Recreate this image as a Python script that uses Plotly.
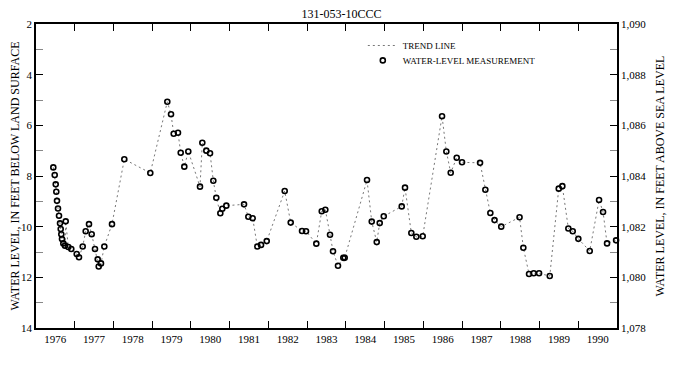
import plotly.graph_objects as go

# Measurement dates (decimal years) and depth to water (feet below land surface)
years = [
    1976.447, 1976.483, 1976.509, 1976.524, 1976.542, 1976.568, 1976.594, 1976.620,
    1976.638, 1976.653, 1976.671, 1976.705, 1976.749, 1976.767, 1976.834, 1976.911,
    1977.051, 1977.110, 1977.206, 1977.283, 1977.368, 1977.438, 1977.523, 1977.593,
    1977.619, 1977.678, 1977.764, 1977.962, 1978.280, 1978.951, 1979.390, 1979.486,
    1979.555, 1979.666, 1979.736, 1979.829, 1979.932, 1980.234, 1980.294, 1980.397,
    1980.493, 1980.578, 1980.655, 1980.759, 1980.810, 1980.914, 1981.371, 1981.482,
    1981.595, 1981.714, 1981.810, 1981.957, 1982.421, 1982.576, 1982.868, 1982.971,
    1983.237, 1983.377, 1983.470, 1983.591, 1983.668, 1983.797, 1983.934, 1983.970,
    1984.546, 1984.668, 1984.797, 1984.874, 1984.978, 1985.442, 1985.527, 1985.690,
    1985.819, 1985.984, 1986.483, 1986.594, 1986.707, 1986.862, 1986.999, 1987.464,
    1987.601, 1987.730, 1987.838, 1988.011, 1988.484, 1988.582, 1988.729, 1988.850,
    1988.988, 1989.264, 1989.496, 1989.589, 1989.744, 1989.857, 1990.002, 1990.296,
    1990.537, 1990.640, 1990.743, 1990.976,
]
depth = [
    7.66, 7.96, 8.33, 8.62, 8.98, 9.28, 9.57, 9.87,
    10.09, 10.30, 10.49, 10.66, 10.75, 9.79, 10.80, 10.88,
    11.08, 11.21, 10.78, 10.18, 9.90, 10.30, 10.88, 11.29,
    11.57, 11.45, 10.78, 9.90, 7.34, 7.88, 5.07, 5.56,
    6.33, 6.29, 7.08, 7.63, 7.03, 8.42, 6.69, 7.00,
    7.10, 8.19, 8.86, 9.47, 9.29, 9.17, 9.12, 9.61,
    9.67, 10.78, 10.72, 10.57, 8.59, 9.84, 10.17, 10.18,
    10.67, 9.39, 9.33, 10.32, 10.97, 11.54, 11.23, 11.23,
    8.16, 9.80, 10.61, 9.86, 9.59, 9.20, 8.46, 10.25,
    10.40, 10.38, 5.64, 7.03, 7.87, 7.28, 7.46, 7.48,
    8.54, 9.46, 9.74, 10.00, 9.63, 10.83, 11.87, 11.84,
    11.84, 11.95, 8.50, 8.40, 10.07, 10.18, 10.48, 10.96,
    8.95, 9.42, 10.66, 10.54,
]

year_labels = [str(y) for y in range(1976, 1991)]
year_label_pos = [y + 0.5 for y in range(1976, 1991)]
year_boundaries = list(range(1977, 1991))
depth_ticks = [2, 4, 6, 8, 10, 12, 14]
elev_ticks = [1078, 1080, 1082, 1084, 1086, 1088, 1090]

FONT = "Liberation Serif"

fig = go.Figure()
fig.add_trace(go.Scatter(
    x=years, y=depth, mode="lines", name="TREND LINE", legend="legend",
    line=dict(color="#777777", width=1, dash="2px,3px"),
    hoverinfo="skip",
))
fig.add_trace(go.Scatter(
    x=years, y=depth, mode="markers", name="WATER-LEVEL MEASUREMENT", legend="legend2",
    marker=dict(symbol="circle-open", size=5, color="black", line=dict(width=1.6, color="black")),
    cliponaxis=False,
))
fig.add_trace(go.Scatter(
    x=[1976, 1991], y=[1078, 1090], yaxis="y2", mode="markers",
    marker=dict(opacity=0), showlegend=False, hoverinfo="skip",
))

legend_style = dict(xanchor="left", yanchor="top", bgcolor="rgba(0,0,0,0)",
                    font=dict(family=FONT, size=9, color="black"), itemwidth=30)

fig.update_layout(
    template="none",
    width=667, height=373,
    margin=dict(l=28, r=58, t=16, b=53, autoexpand=False),
    paper_bgcolor="white", plot_bgcolor="white",
    font=dict(family=FONT, color="black", size=11),
    title=dict(text="131-053-10CCC", x=0.5, xanchor="center", y=0.995, yanchor="top",
               font=dict(family=FONT, size=12, color="black")),
    showlegend=True,
    legend=dict(x=0.5625, y=0.977, **legend_style),
    legend2=dict(x=0.5625, y=0.928, **legend_style),
    xaxis=dict(
        range=[1976, 1991], showgrid=False, zeroline=False, automargin=False,
        showline=True, linecolor="black", linewidth=1.5, mirror="allticks",
        tickmode="array", tickvals=year_label_pos, ticktext=year_labels,
        ticks="", tickfont=dict(family=FONT, size=11),
        minor=dict(tickmode="array", tickvals=year_boundaries, ticks="inside",
                   ticklen=7, tickcolor="black", tickwidth=1, showgrid=False),
    ),
    yaxis=dict(
        range=[14, 2], showgrid=False, zeroline=False,
        showline=True, linecolor="black", linewidth=1.5, mirror=False,
        tickmode="array", tickvals=depth_ticks, ticks="inside", ticklen=7,
        tickcolor="black", tickwidth=1, tickfont=dict(family=FONT, size=11),
        minor=dict(dtick=1, ticks="inside", ticklen=7, tickcolor="#888888", tickwidth=1, showgrid=False),
        title=dict(text="WATER LEVEL, IN FEET BELOW LAND SURFACE",
                   font=dict(family=FONT, size=12), standoff=4),
        automargin=False,
    ),
    yaxis2=dict(
        range=[1078, 1090], overlaying="y", side="right", showgrid=False, zeroline=False,
        showline=True, linecolor="black", linewidth=1.5,
        tickmode="array", tickvals=elev_ticks, tickformat=",d",
        ticks="inside", ticklen=7, tickcolor="black", tickwidth=1,
        tickfont=dict(family=FONT, size=11),
        minor=dict(dtick=1, ticks="inside", ticklen=7, tickcolor="#888888", tickwidth=1, showgrid=False),
        title=dict(text="WATER LEVEL, IN FEET ABOVE SEA LEVEL",
                   font=dict(family=FONT, size=12), standoff=10),
        automargin=False,
    ),
)

fig.write_html("out.html")
